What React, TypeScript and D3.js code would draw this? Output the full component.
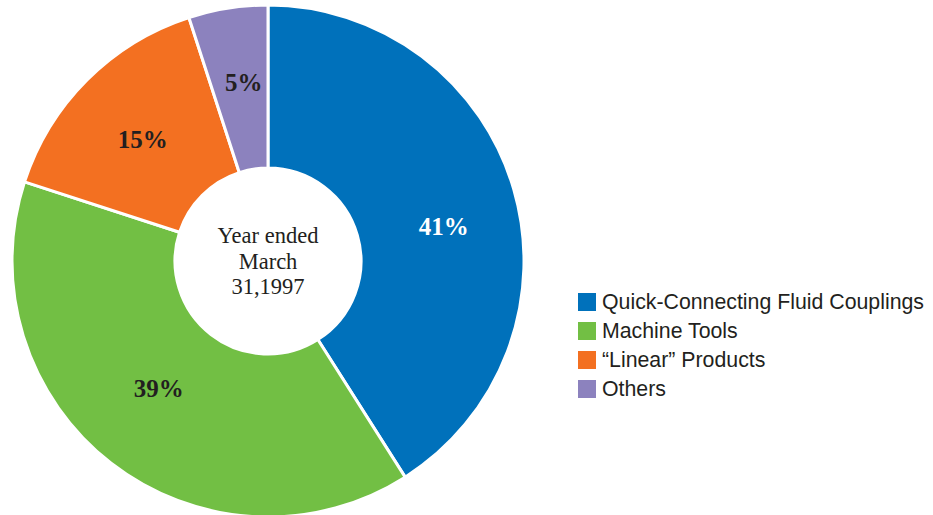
import React from "react";
import * as d3 from "d3";

const categories = ["Quick-Connecting Fluid Couplings", "Machine Tools", "\u201CLinear\u201D Products", "Others"];
const values = [41, 39, 15, 5];
const labels = ["41%", "39%", "15%", "5%"];
const colors = ["#0071BB", "#72BF44", "#F37021", "#8C82BE"];
const labelColors = ["#ffffff", "#231F20", "#231F20", "#231F20"];
const centerLines = ["Year ended", "March", "31,1997"];

const W = 933;
const H = 515;
const cx = 268;
const cy = 261;
const R = 256;
const r0 = 93;
const labelNudge: [number, number][] = [[3, 16], [1, -15], [2, 6], [4, -1]];

export default function App() {
  const pie = d3.pie<number>().sort(null).value((d) => d);
  const arcs = pie(values);
  const arc = d3.arc<d3.PieArcDatum<number>>().innerRadius(r0).outerRadius(R);
  const labelArc = d3.arc<d3.PieArcDatum<number>>().innerRadius(180).outerRadius(180);
  const legendY = d3.scaleBand<number>().domain(d3.range(categories.length)).range([287.5, 403.5]);

  return (
    <svg width={W} height={H} style={{ position: "absolute", left: 0, top: 0, background: "#fff" }}>
      <g transform={`translate(${cx},${cy})`}>
        {arcs.map((a, i) => (
          <path key={i} d={arc(a) || ""} fill={colors[i]} stroke="#fff" strokeWidth={3} strokeLinejoin="miter" />
        ))}
        <circle r={r0} fill="#fff" />
        {arcs.map((a, i) => {
          const [x, y] = labelArc.centroid(a);
          return (
            <text
              key={i}
              x={x + labelNudge[i][0]}
              y={y + labelNudge[i][1]}
              textAnchor="middle"
              dominantBaseline="central"
              fontFamily="'Liberation Serif', 'DejaVu Serif', serif"
              fontWeight="bold"
              fontSize={25}
              fill={labelColors[i]}
            >
              {labels[i]}
            </text>
          );
        })}
        {centerLines.map((t, i) => (
          <text
            key={i}
            x={0}
            y={(i - 1) * 25.5}
            textAnchor="middle"
            dominantBaseline="central"
            fontFamily="'Liberation Serif', 'DejaVu Serif', serif"
            fontSize={22.5}
            fill="#231F20"
          >
            {t}
          </text>
        ))}
      </g>
      <g>
        {categories.map((c, i) => {
          const y = (legendY(i) as number) + legendY.bandwidth() / 2;
          return (
            <g key={i}>
              <rect x={578} y={y - 9} width={18} height={18} fill={colors[i]} />
              <text
                x={602}
                y={y}
                dominantBaseline="central"
                fontFamily="'Liberation Sans', Arial, sans-serif"
                fontSize={21.3}
                fill="#231F20"
              >
                {c}
              </text>
            </g>
          );
        })}
      </g>
    </svg>
  );
}
